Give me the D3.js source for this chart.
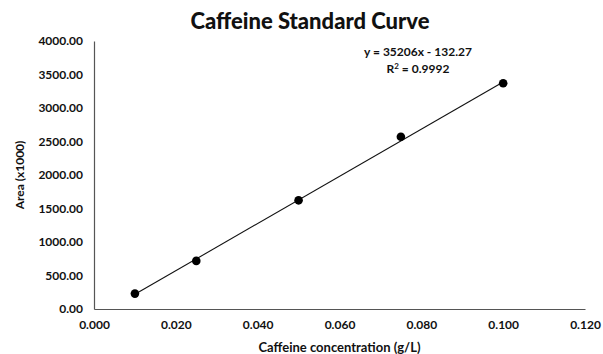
<!DOCTYPE html>
<html>
<head>
<meta charset="utf-8">
<script src="https://cdn.jsdelivr.net/npm/d3@7"></script>
<style>
  body { margin: 0; background: #fff; }
  text { font-family: Lato, "Open Sans", sans-serif; fill: #111; }
</style>
</head>
<body>
<div id="chart"></div>
<script>
// caffeine standards (g/L) and peak areas (x1000)
var concentration = [0.010, 0.025, 0.050, 0.075, 0.100];
var area = [230, 718, 1622, 2570, 3370];

// linear trendline from the spreadsheet
var slope = 35206;
var intercept = -132.27;
var rSquared = "0.9992";

var xTicks = [0, 0.02, 0.04, 0.06, 0.08, 0.10, 0.12];
var yTicks = [0, 500, 1000, 1500, 2000, 2500, 3000, 3500, 4000];

var svgWidth = 603;
var svgHeight = 354;

var margin = { top: 41, right: 18, bottom: 45, left: 94 };
var chartWidth = 585 - margin.left;
var chartHeight = 309 - margin.top;

var svg = d3.select("#chart")
  .append("svg")
  .attr("width", svgWidth)
  .attr("height", svgHeight);

var chartGroup = svg.append("g")
  .attr("transform", `translate(${margin.left}, ${margin.top})`);

var xScale = d3.scaleLinear()
  .domain([0, 0.12])
  .range([0, chartWidth]);

var yScale = d3.scaleLinear()
  .domain([0, 4000])
  .range([chartHeight, 0]);

var bottomAxis = d3.axisBottom(xScale)
  .tickValues(xTicks)
  .tickSize(0)
  .tickPadding(11)
  .tickFormat(d3.format(".3f"));

var leftAxis = d3.axisLeft(yScale)
  .tickValues(yTicks)
  .tickSize(0)
  .tickPadding(11)
  .tickFormat(d3.format(".2f"));

var xAxisG = chartGroup.append("g")
  .attr("transform", `translate(0, ${chartHeight})`)
  .call(bottomAxis);

var yAxisG = chartGroup.append("g")
  .call(leftAxis);

[xAxisG, yAxisG].forEach(function(g) {
  g.select(".domain").attr("stroke", "#555").attr("stroke-width", 1.2);
  g.selectAll("text")
    .style("font-size", "12px")
    .style("font-weight", "bold")
    .attr("fill", "#111");
});

// trendline across the range of the standards
var xExtent = d3.extent(concentration);
var trend = xExtent.map(function(x) { return [x, slope * x + intercept]; });

chartGroup.append("line")
  .attr("x1", xScale(trend[0][0]))
  .attr("y1", yScale(trend[0][1]))
  .attr("x2", xScale(trend[1][0]))
  .attr("y2", yScale(trend[1][1]))
  .attr("stroke", "#111")
  .attr("stroke-width", 1.1);

chartGroup.selectAll(".dot")
  .data(concentration)
  .enter()
  .append("circle")
  .attr("class", "dot")
  .attr("cx", d => xScale(d))
  .attr("cy", (d, i) => yScale(area[i]))
  .attr("r", 4.3)
  .attr("fill", "#000");

// equation label
svg.append("text")
  .attr("x", 418)
  .attr("y", 56)
  .attr("text-anchor", "middle")
  .style("font-size", "12px")
  .style("font-weight", "bold")
  .text("y = " + slope + "x - " + Math.abs(intercept));

var r2 = svg.append("text")
  .attr("x", 418)
  .attr("y", 73)
  .attr("text-anchor", "middle")
  .style("font-size", "12px")
  .style("font-weight", "bold");
r2.append("tspan").text("R");
r2.append("tspan").attr("dy", -4).style("font-size", "8px").text("2");
r2.append("tspan").attr("dy", 4).text(" = " + rSquared);

svg.append("text")
  .attr("x", 310)
  .attr("y", 29)
  .attr("text-anchor", "middle")
  .style("font-size", "22px")
  .style("font-weight", "900")
  .text("Caffeine Standard Curve");

svg.append("text")
  .attr("x", margin.left + chartWidth / 2)
  .attr("y", 352)
  .attr("text-anchor", "middle")
  .style("font-size", "13px")
  .style("font-weight", "bold")
  .text("Caffeine concentration (g/L)");

svg.append("text")
  .attr("transform", "rotate(-90)")
  .attr("x", -175)
  .attr("y", 24)
  .attr("text-anchor", "middle")
  .style("font-size", "12px")
  .style("font-weight", "bold")
  .text("Area (x1000)");
</script>
</body>
</html>
